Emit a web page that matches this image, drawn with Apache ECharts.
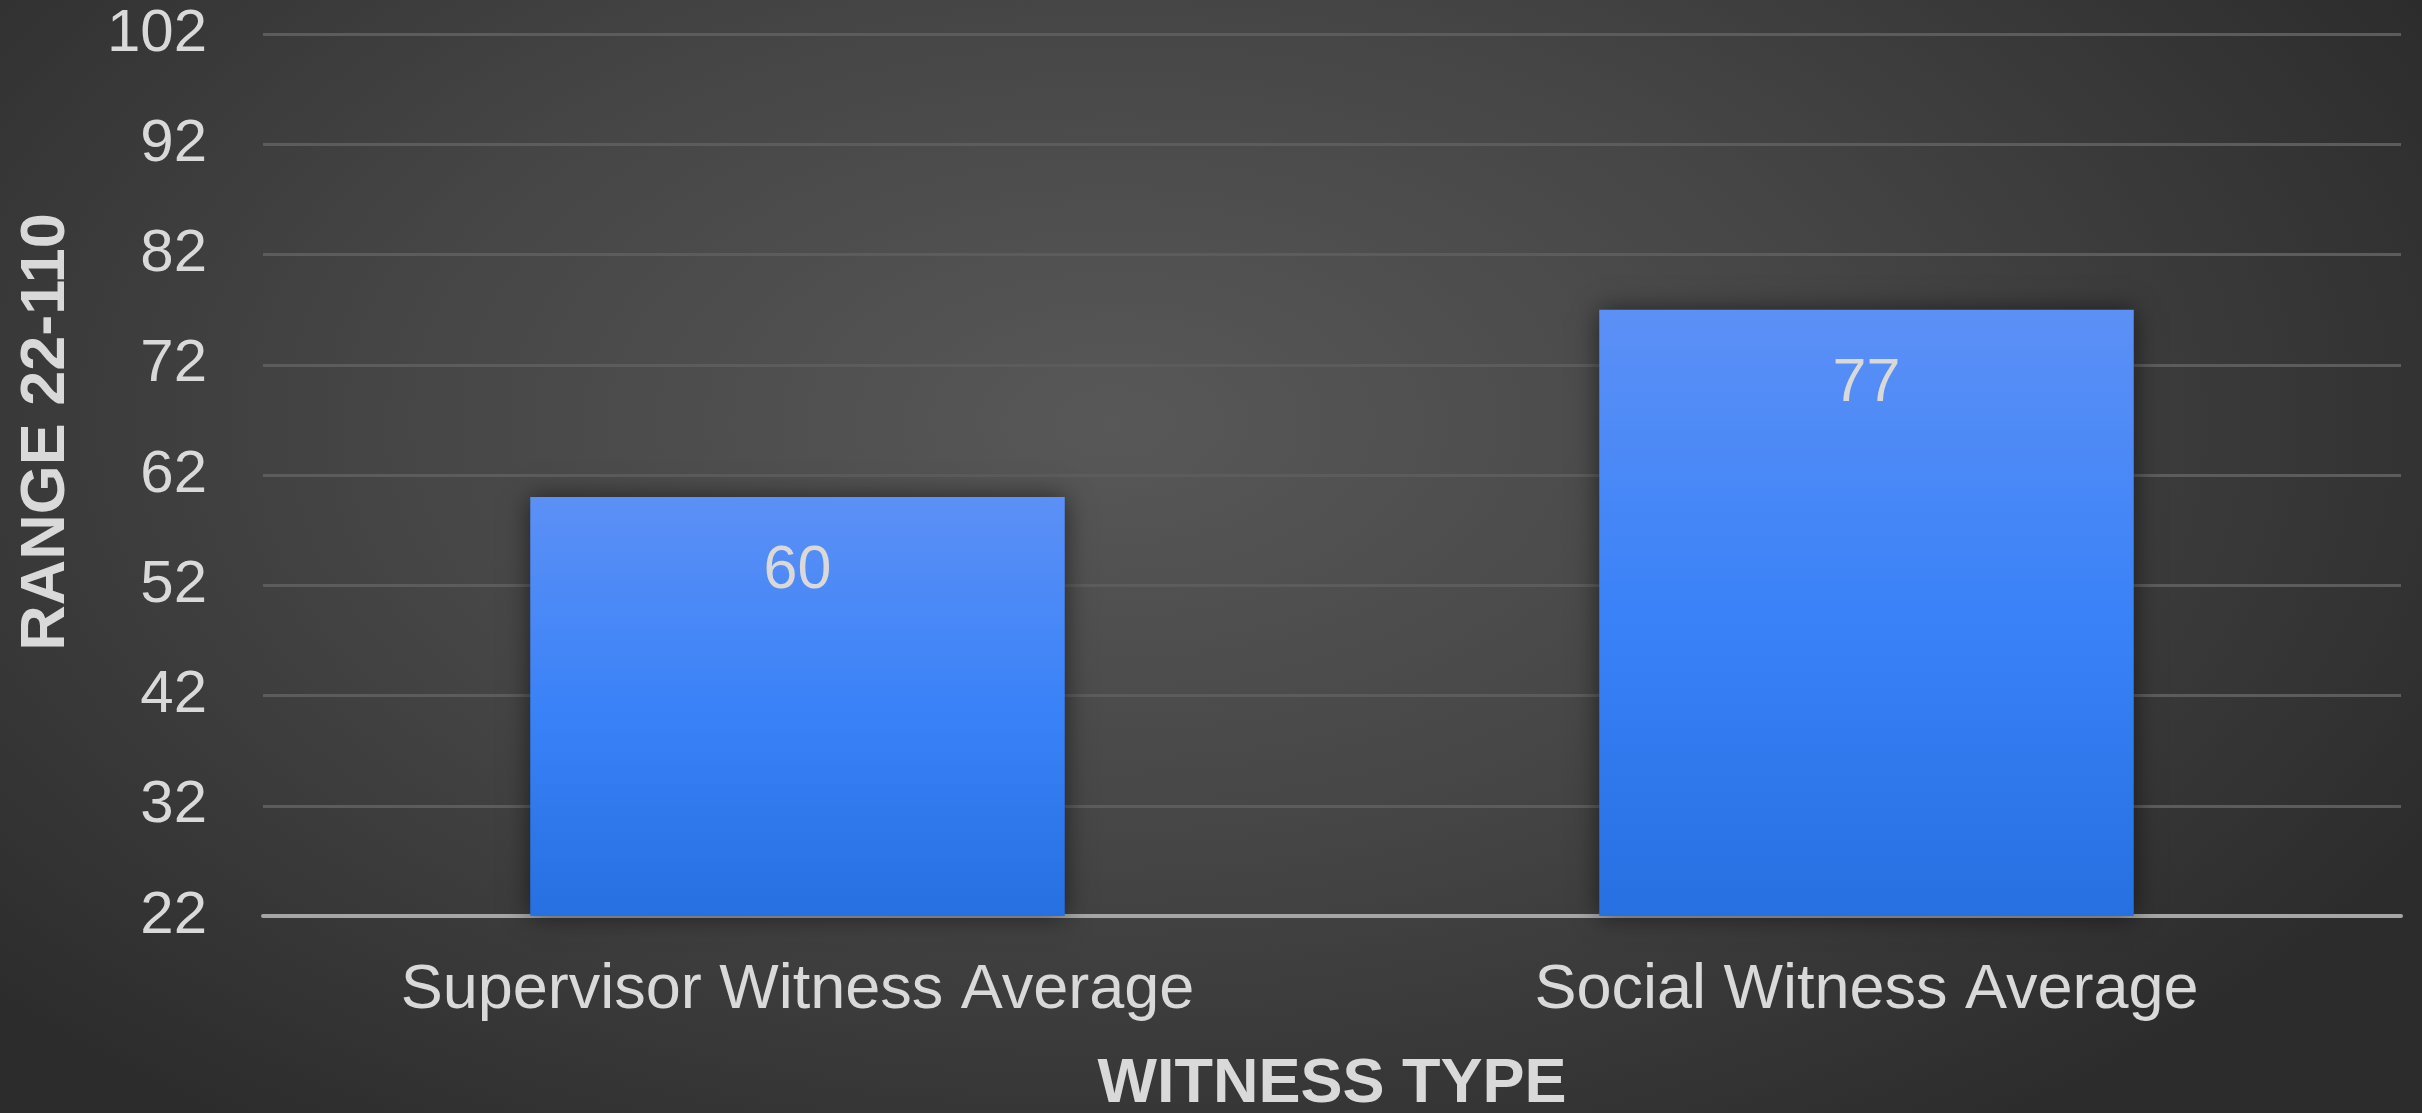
<!DOCTYPE html>
<html>
<head>
<meta charset="utf-8">
<script src="https://cdn.jsdelivr.net/npm/echarts@6/dist/echarts.min.js"></script>
<style>
  html, body { margin: 0; padding: 0; }
  #chart {
    width: 2422px;
    height: 1113px;
    background: radial-gradient(ellipse 62% 78% at 46% 38%, #585858 0%, #454545 50%, #2c2c2c 100%);
  }
</style>
</head>
<body>
<div id="chart"></div>
<script>
const categories = ['Supervisor Witness Average', 'Social Witness Average']
const values = [60, 77]
const yTicks = { min: 22, max: 102, step: 10 }

const textColor = '#d9d9d9'
const fontFamily = '"Liberation Sans", Arial, sans-serif'

const chart = echarts.init(document.getElementById('chart'))

const option = {
  backgroundColor: 'transparent',
  textStyle: { fontFamily },
  grid: { left: 263, right: 21, top: 34, bottom: 197, outerBoundsMode: 'none' },
  xAxis: {
    type: 'category',
    data: categories,
    name: 'WITNESS TYPE',
    nameLocation: 'middle',
    nameGap: 137,
    nameTextStyle: { color: textColor, fontSize: 63, fontWeight: 'bold', fontFamily },
    axisLine: { lineStyle: { color: '#a6a6a6', width: 4 } },
    axisTick: { show: false },
    axisLabel: { color: textColor, fontSize: 63, margin: 43, fontFamily }
  },
  yAxis: {
    type: 'value',
    min: yTicks.min,
    max: yTicks.max,
    interval: yTicks.step,
    name: 'RANGE 22-110',
    nameLocation: 'middle',
    nameRotate: 90,
    nameGap: 185,
    nameTextStyle: {
      color: textColor, fontSize: 63, fontWeight: 'bold', fontFamily,
      padding: [0, 0, 0, 86]
    },
    axisLine: { show: false },
    axisTick: { show: false },
    axisLabel: { color: textColor, fontSize: 60, margin: 56, fontFamily },
    splitLine: { lineStyle: { color: '#5c5c5c', width: 3 } }
  },
  series: [
    {
      type: 'bar',
      data: values,
      barWidth: '50%',
      itemStyle: {
        color: new echarts.graphic.LinearGradient(0, 0, 0, 1, [
          { offset: 0, color: '#5c90f6' },
          { offset: 0.5, color: '#3a82f8' },
          { offset: 1, color: '#2670e2' }
        ]),
        shadowBlur: 24,
        shadowColor: 'rgba(0,0,0,0.55)'
      },
      label: {
        show: true,
        position: 'insideTop',
        distance: 44,
        color: textColor,
        fontSize: 61,
        fontFamily
      }
    }
  ]
}

chart.setOption(option)
</script>
</body>
</html>
